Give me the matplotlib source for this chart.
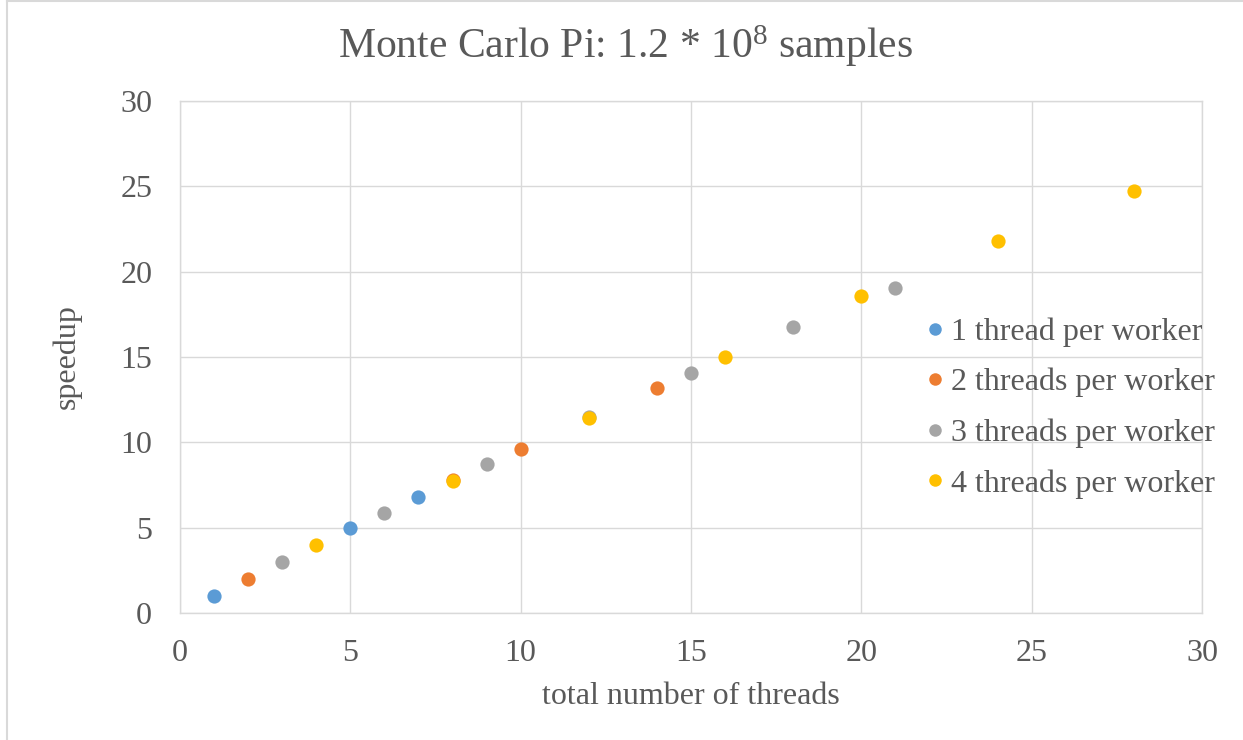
import matplotlib
matplotlib.use('Agg')
import matplotlib.pyplot as plt
from matplotlib.lines import Line2D

# total threads / speedup per series
threads_1 = [1, 5, 7]
speedup_1 = [1.0, 4.96, 6.8]
threads_2 = [2, 8, 10, 14]
speedup_2 = [1.97, 7.8, 9.63, 13.18]
threads_3 = [3, 6, 9, 12, 15, 18, 21]
speedup_3 = [2.97, 5.88, 8.73, 11.5, 14.06, 16.77, 19.02]
threads_4 = [4, 8, 12, 16, 20, 24, 28]
speedup_4 = [3.97, 7.75, 11.44, 14.98, 18.55, 21.79, 24.74]

labels = ['1 thread per worker', '2 threads per worker',
          '3 threads per worker', '4 threads per worker']
colors = ['#5B9BD5', '#ED7D31', '#A5A5A5', '#FFC000']
ticks = [0, 5, 10, 15, 20, 25, 30]

plt.rcParams['font.family'] = ['Liberation Serif', 'DejaVu Serif']
plt.rcParams['mathtext.fontset'] = 'custom'
plt.rcParams['mathtext.rm'] = 'Liberation Serif'
plt.rcParams['mathtext.it'] = 'Liberation Serif:italic'
text_color = '#595959'
grid_color = '#D9D9D9'

fig = plt.figure(figsize=(12.43, 7.4), dpi=100)
ax = fig.add_axes([180 / 1243, 1 - 613 / 740, (1202 - 180) / 1243, (613 - 101) / 740])

series = [(threads_1, speedup_1), (threads_2, speedup_2),
          (threads_3, speedup_3), (threads_4, speedup_4)]
for (x, y), c, lab in zip(series, colors, labels):
    ax.scatter(x, y, s=105, color=c, label=lab, linewidths=0, zorder=3)

ax.set_xlim(0, 30)
ax.set_ylim(0, 30)
ax.set_xticks(ticks)
ax.set_yticks(ticks)
ax.grid(True, color=grid_color, linewidth=1)
ax.set_axisbelow(True)
for s in ax.spines.values():
    s.set_color(grid_color)
    s.set_linewidth(1)
ax.tick_params(length=0, labelsize=23, colors=text_color)
ax.tick_params(axis='x', pad=19)
ax.tick_params(axis='y', pad=20)

ax.set_xlabel('total number of threads', fontsize=23, color=text_color, labelpad=10)
ax.set_ylabel('speedup', fontsize=23, color=text_color, labelpad=28)
fig.text(625 / 1243, 1 - 46 / 740, r'Monte Carlo Pi: 1.2 * 10$^{\mathrm{8}}$ samples',
         ha='center', va='center', fontsize=30, color=text_color)

handles = [Line2D([], [], marker='o', linestyle='none', markersize=9,
                  markerfacecolor=c, markeredgewidth=0) for c in colors]
leg = fig.legend(handles, labels, loc='center left',
                 bbox_to_anchor=(903 / 1243, 1 - 408 / 740), frameon=False,
                 fontsize=23, handletextpad=0.0, labelspacing=0.66,
                 handlelength=1.0, borderpad=0)
for t in leg.get_texts():
    t.set_color(text_color)

# chart border (left and top only visible)
fig.add_artist(Line2D([7 / 1243, 7 / 1243], [0, 1 - 1 / 740], color=grid_color, lw=1.5))
fig.add_artist(Line2D([7 / 1243, 1], [1 - 1 / 740, 1 - 1 / 740], color=grid_color, lw=1.5))

fig.savefig('out.png', dpi=100)
